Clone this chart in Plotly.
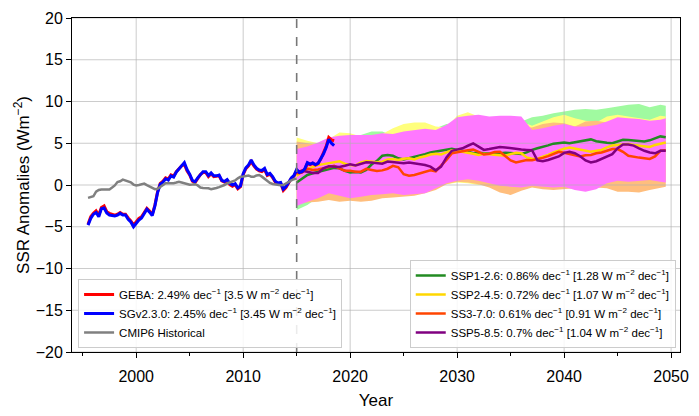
import numpy as np
import plotly.graph_objects as go

# ---------------- data ----------------
# Observations / historical run (quarterly steps)
OBS_START = 1995.5
OBS_STEP = 0.25

sg_v230 = [
    -4.8, -4.0,
    -3.5, -3.3, -3.8, -2.85,
    -2.75, -3.35, -3.6, -3.65,
    -3.7, -3.6, -3.4, -3.6,
    -3.6, -4.1, -4.43, -5.0,
    -4.6, -4.2, -3.95, -3.45,
    -2.9, -3.25, -3.65, -2.5,
    -0.9, 0.1, 0.35, 0.75,
    0.6, 1.1, 0.95, 1.55,
    1.9, 2.38, 2.68, 1.85,
    1.3, 0.55, 0.39, 0.85,
    1.3, 1.6, 1.6, 1.14,
    1.45, 1.1, 1.1, 1.2,
    0.55, 0.42, 0.65, 0.2,
    0.0, 0.15, -0.35, -0.1,
    1.35, 2.05, 2.4, 2.99,
    2.4, 2.0, 1.8, 1.75,
    2.0, 1.25, 1.4, 1.0,
    0.45, 0.25, 0.3, -0.5,
    -0.2, 0.4, 0.85, 1.14,
    1.85, 1.5, 1.6, 1.9,
    2.68, 2.5, 2.65, 2.45,
    2.6, 3.15, 3.7, 4.45,
    5.46, 5.0, 4.72,
]

geba = [
    -4.7, -3.8,
    -3.4, -3.1, -3.6, -2.7,
    -2.5, -3.2, -3.4, -3.5,
    -3.6, -3.5, -3.3, -3.5,
    -3.5, -3.95, -4.3, -4.8,
    -4.45, -4.0, -3.8, -3.3,
    -2.8, -3.1, -3.55, -2.4,
    -0.8, 0.2, 0.45, 0.85,
    0.7, 1.2, 1.05, 1.6,
    1.95, 2.3, 2.5, 1.7,
    1.2, 0.45, 0.3, 0.8,
    1.25, 1.5, 1.5, 1.0,
    1.35, 1.0, 1.05, 1.1,
    0.5, 0.35, 0.55, 0.05,
    -0.15, 0.05, -0.45, -0.2,
    1.25, 1.95, 2.3, 2.8,
    2.3, 1.9, 1.7, 1.6,
    1.85, 1.15, 1.3, 0.9,
    0.35, 0.15, 0.2, -0.65,
    -0.3, 0.3, 0.8, 1.05,
    1.75, 1.45, 1.55, 1.85,
    2.6, 2.45, 2.6, 2.4,
    2.55, 3.1, 3.75, 4.6,
    5.7, 5.4, 5.3,
]

cmip6_hist = [
    -1.54, -1.45,
    -1.35, -0.8, -0.6, -0.53,
    -0.53, -0.5, -0.53, -0.3,
    -0.05, 0.35, 0.45, 0.65,
    0.55, 0.38, 0.32, 0.05,
    -0.05, 0.0, 0.05, 0.17,
    -0.02, -0.2, -0.3, -0.5,
    -0.45, -0.2, 0.05, 0.2,
    0.22, 0.2, 0.22, 0.3,
    0.39, 0.3, 0.22, 0.15,
    0.03, 0.05, 0.1, -0.05,
    -0.3, -0.35, -0.35, -0.4,
    -0.5, -0.45, -0.35, -0.25,
    -0.16, 0.0, 0.18, 0.3,
    0.45, 0.55, 0.8, 1.0,
    1.02, 1.1, 1.14, 1.0,
    0.98, 1.15, 1.2, 1.0,
    0.75, 0.55, 0.25, 0.12,
    0.05, 0.02, -0.03, 0.0,
    0.21, 0.35, 0.55, 0.7,
    0.77,
]

# Scenario ensemble means (half-year steps, 2015.0 - 2049.5)
SCEN_START = 2015.0
SCEN_STEP = 0.5

ssp126 = [
    0.3, 0.7, 1.2, 1.4, 1.55, 1.7, 1.9, 2.05, 2.0, 1.7,
    1.5, 1.55, 1.5, 1.8, 2.45, 2.9, 3.5, 3.6, 3.5, 3.2,
    3.05, 3.2, 3.35, 3.5, 3.7, 3.9, 4.0, 4.15, 4.25, 4.35,
    4.2, 4.1, 4.0, 3.8, 3.85, 3.8, 3.75, 3.7, 3.8, 3.87,
    3.82, 3.78, 3.72, 3.9, 4.2, 4.4, 4.55, 4.75, 4.95, 5.05,
    5.1, 5.0, 5.1, 5.28, 5.38, 5.46, 5.25, 5.12, 5.05, 5.0,
    5.2, 5.42, 5.4, 5.32, 5.28, 5.22, 5.35, 5.55, 5.82, 5.72,
]
ssp245 = [
    1.1, 1.6, 1.9, 2.15, 2.4, 2.5, 2.6, 2.7, 2.85, 2.55,
    2.4, 2.35, 2.7, 2.86, 2.8, 2.72, 2.8, 3.05, 3.12, 3.0,
    3.15, 3.2, 3.05, 3.3, 3.45, 3.65, 3.75, 3.65, 3.9, 4.15,
    4.1, 3.95, 3.85, 3.75, 3.6, 3.75, 3.7, 3.6, 3.55, 3.5,
    3.7, 3.85, 3.8, 3.3, 3.15, 3.12, 3.4, 3.6, 3.9, 4.15,
    4.35, 4.5, 4.35, 4.2, 4.05, 3.98, 4.1, 4.2, 4.5, 4.72,
    4.8, 4.85, 4.9, 4.8, 4.7, 4.6, 4.55, 4.8, 4.98, 5.1,
]
ssp370 = [
    1.35, 1.75, 1.93, 1.8, 1.85, 2.0, 2.15, 2.3, 2.0, 1.7,
    1.7, 1.6, 1.6, 1.93, 1.8, 1.68, 1.75, 1.95, 2.3, 2.12,
    1.3, 1.12, 1.2, 1.4, 1.6, 1.75, 1.64, 2.3, 3.0, 3.79,
    3.95, 4.05, 4.15, 4.24, 3.98, 3.65, 3.75, 3.95, 3.98, 3.5,
    2.95, 2.7, 2.86, 3.0, 2.97, 3.1, 3.25, 3.45, 3.7, 3.98,
    3.85, 3.7, 3.5, 3.42, 3.55, 3.6, 3.8, 3.9, 4.1, 4.3,
    4.3, 3.98, 3.5, 3.35, 3.28, 3.2, 3.12, 3.42, 4.1, 4.16,
]
ssp585 = [
    1.55, 1.7, 1.6, 1.45, 1.45, 2.0, 2.25, 2.2, 2.15, 2.3,
    2.49, 2.35, 2.5, 2.72, 2.7, 2.6, 2.55, 2.8, 2.75, 2.65,
    2.6, 2.68, 2.6, 2.5, 2.4, 2.2, 1.75, 2.2, 3.3, 4.1,
    4.25, 4.4, 4.7, 4.98, 4.6, 4.2, 4.3, 4.45, 4.55, 4.5,
    4.4, 4.35, 4.24, 4.2, 4.16, 2.95, 2.86, 3.0, 3.2, 3.42,
    3.85, 3.98, 3.8, 3.45, 2.95, 2.7, 2.85, 3.12, 3.42, 3.7,
    4.4, 4.85, 4.85, 4.72, 4.4, 4.1, 3.9, 3.8, 4.1, 4.09,
]

# Ensemble spread envelopes (yearly, 2015-2049 plus 2049.5)
band_years = [2015, 2016, 2017, 2018, 2019, 2020, 2021, 2022, 2023, 2024,
              2025, 2026, 2027, 2028, 2029, 2030, 2031, 2032, 2033, 2034,
              2035, 2036, 2037, 2038, 2039, 2040, 2041, 2042, 2043, 2044,
              2045, 2046, 2047, 2048, 2049, 2049.5]

ssp126_hi = [3.5, 4.0, 4.5, 5.0, 5.5, 5.8, 6.0, 6.4, 6.4, 5.9,
             6.0, 6.2, 6.5, 6.8, 7.3, 7.4, 7.6, 7.8, 7.9, 7.8,
             7.6, 7.6, 8.1, 8.3, 8.6, 8.8, 9.0, 9.1, 9.0, 9.2,
             9.4, 9.6, 9.7, 9.3, 9.6, 9.5]
ssp126_lo = [-3.0, -2.4, -1.5, -0.8, -1.5, -1.3, -1.0, -0.8, -0.6, -0.6,
             -0.7, -0.6, -0.5, -0.2, 0.3, 0.6, 0.4, 0.1, 0.3, 0.4,
             0.3, 0.2, 0.4, 0.3, 0.2, 0.3, 0.1, 0.0, 0.2, 0.5,
             0.8, 0.7, 0.8, 0.9, 0.8, 0.7]
ssp245_hi = [5.7, 5.3, 5.0, 5.5, 6.3, 6.2, 5.8, 5.9, 6.1, 6.8,
             7.3, 7.5, 7.5, 7.0, 6.9, 8.3, 8.7, 8.2, 8.0, 7.9,
             7.8, 7.6, 7.1, 7.6, 8.1, 8.4, 8.0, 7.7, 7.5, 8.2,
             8.4, 8.2, 8.0, 7.8, 8.3, 8.2]
ssp245_lo = [-2.2, -1.9, -1.3, -0.9, -0.9, -1.0, -0.9, -0.8, -0.7, -0.6,
             -0.8, -0.7, -0.6, -0.3, 0.1, 0.3, 0.2, 0.0, 0.3, 0.3,
             0.2, 0.1, 0.3, 0.2, 0.1, 0.2, 0.0, -0.2, -0.1, 0.4,
             0.6, 0.5, 0.6, 0.7, 0.6, 0.5]
ssp370_hi = [5.2, 5.0, 4.8, 5.0, 5.3, 5.5, 5.3, 5.5, 5.6, 5.7,
             5.8, 6.0, 6.0, 6.2, 6.5, 7.0, 7.4, 7.6, 7.5, 7.4,
             7.3, 7.0, 6.9, 7.3, 7.5, 7.4, 7.0, 7.6, 7.7, 7.5,
             7.6, 7.5, 7.4, 7.5, 7.6, 7.5]
ssp370_lo = [-2.2, -2.1, -2.0, -1.8, -2.0, -1.9, -2.0, -1.9, -1.6, -1.5,
             -1.4, -1.3, -1.0, -0.6, 0.1, 0.4, 0.3, 0.1, -0.3, -0.9,
             -1.2, -0.7, -0.3, -0.5, -0.6, -0.5, -0.4, -0.6, -0.3, -0.4,
             -0.8, -0.8, -0.9, -0.6, -0.3, -0.2]
ssp585_hi = [4.3, 4.6, 5.1, 5.7, 5.9, 6.0, 6.0, 6.0, 6.2, 6.1,
             6.4, 6.6, 6.75, 6.6, 7.2, 8.1, 8.3, 8.4, 8.2, 8.3,
             8.3, 8.2, 6.6, 6.8, 7.1, 7.3, 7.0, 7.0, 7.2, 7.6,
             8.1, 8.0, 7.9, 7.7, 7.8, 8.0]
ssp585_lo = [-2.5, -2.0, -1.6, -1.0, -1.3, -1.6, -1.4, -1.2, -1.1, -1.0,
             -1.2, -1.1, -1.0, -0.4, 0.2, 0.5, 0.7, 0.5, 0.2, -0.1,
             -0.2, -0.3, -0.1, -0.2, -0.3, -0.2, -0.6, -0.8, -0.5, 0.2,
             0.5, 0.4, 0.5, 0.6, 0.4, 0.3]

SCENARIO_BREAK = 2015

x_ticks = [2000, 2010, 2020, 2030, 2040, 2050]
y_ticks = [-20, -15, -10, -5, 0, 5, 10, 15, 20]
X_RANGE = [1994.0, 2050.83]
Y_RANGE = [-20, 20]

obs_labels = [
    "GEBA: 2.49% dec<sup>−1</sup> [3.5 W m<sup>−2</sup> dec<sup>−1</sup>]",
    "SGv2.3.0: 2.45% dec<sup>−1</sup> [3.45 W m<sup>−2</sup> dec<sup>−1</sup>]",
    "CMIP6 Historical",
]
ssp_labels = [
    "SSP1-2.6: 0.86% dec<sup>−1</sup> [1.28 W m<sup>−2</sup> dec<sup>−1</sup>]",
    "SSP2-4.5: 0.72% dec<sup>−1</sup> [1.07 W m<sup>−2</sup> dec<sup>−1</sup>]",
    "SS3-7.0: 0.61% dec<sup>−1</sup> [0.91 W m<sup>−2</sup> dec<sup>−1</sup>]",
    "SSP5-8.5: 0.7% dec<sup>−1</sup> [1.04 W m<sup>−2</sup> dec<sup>−1</sup>]",
]

# ---------------- styling ----------------
FONT = "Liberation Sans, Arial, sans-serif"
line_colors = ["#228B22", "#FFD700", "#FF4500", "#800080"]
band_colors = ["rgb(160,250,160)", "rgb(255,255,125)",
               "rgb(255,190,125)", "rgb(255,120,255)"]
GRID_COLOR = "rgba(176,176,176,0.65)"


def years_for(values, start, step):
    return start + step * np.arange(len(values))


fig = go.Figure()

# spread envelopes
bands = [(ssp126_hi, ssp126_lo), (ssp245_hi, ssp245_lo),
         (ssp370_hi, ssp370_lo), (ssp585_hi, ssp585_lo)]
for (hi, lo), col in zip(bands, band_colors):
    fig.add_trace(go.Scatter(x=band_years, y=hi, mode="lines",
                             line=dict(width=0, color=col),
                             showlegend=False, hoverinfo="skip"))
    fig.add_trace(go.Scatter(x=band_years, y=lo, mode="lines",
                             line=dict(width=0, color=col),
                             fill="tonexty", fillcolor=col,
                             showlegend=False, hoverinfo="skip"))

# grid drawn above the envelopes but below the lines
gx, gy = [], []
for t in x_ticks:
    gx += [t, t, None]
    gy += [Y_RANGE[0], Y_RANGE[1], None]
for t in y_ticks:
    gx += [X_RANGE[0], X_RANGE[1], None]
    gy += [t, t, None]
fig.add_trace(go.Scatter(x=gx, y=gy, mode="lines",
                         line=dict(color=GRID_COLOR, width=1),
                         showlegend=False, hoverinfo="skip"))

# scenario means
for vals, col, name in zip([ssp126, ssp245, ssp370, ssp585], line_colors, ssp_labels):
    fig.add_trace(go.Scatter(x=years_for(vals, SCEN_START, SCEN_STEP), y=vals,
                             mode="lines", line=dict(color=col, width=2.5),
                             name=name, legend="legend2"))

# historical and observations
fig.add_trace(go.Scatter(x=years_for(geba, OBS_START, OBS_STEP), y=geba, mode="lines",
                         line=dict(color="#FF0000", width=3), name=obs_labels[0],
                         legend="legend"))
fig.add_trace(go.Scatter(x=years_for(sg_v230, OBS_START, OBS_STEP), y=sg_v230, mode="lines",
                         line=dict(color="#0000FF", width=3), name=obs_labels[1],
                         legend="legend"))
fig.add_trace(go.Scatter(x=years_for(cmip6_hist, OBS_START, OBS_STEP), y=cmip6_hist,
                         mode="lines", line=dict(color="#808080", width=2.5),
                         name=obs_labels[2], legend="legend"))

# start of the scenario period
fig.add_shape(type="line", xref="x", yref="paper",
              x0=SCENARIO_BREAK, x1=SCENARIO_BREAK, y0=0, y1=1,
              line=dict(color="#777777", width=1.6, dash="dash"), layer="above")

legend_common = dict(bgcolor="rgba(255,255,255,0.85)", bordercolor="#cccccc",
                     borderwidth=1, font=dict(family=FONT, size=11.5, color="black"),
                     itemwidth=30, tracegroupgap=0, traceorder="normal")

fig.update_layout(
    width=699, height=416,
    margin=dict(l=72, r=10, t=14, b=43),
    paper_bgcolor="white", plot_bgcolor="white",
    font=dict(family=FONT, color="black"),
    showlegend=True,
    legend=dict(x=0.01, y=0.012, xanchor="left", yanchor="bottom", **legend_common),
    legend2=dict(x=0.993, y=0.012, xanchor="right", yanchor="bottom", **legend_common),
    xaxis=dict(range=X_RANGE, tickvals=x_ticks, showgrid=False, zeroline=False,
               showline=True, linecolor="black", linewidth=1, mirror=True,
               ticks="outside", ticklen=5, tickcolor="black",
               tickfont=dict(size=16), ticklabelstandoff=5,
               minor=dict(dtick=5, ticks="outside", ticklen=3, tickcolor="black", showgrid=False),
               title=dict(text="Year", font=dict(size=17), standoff=9)),
    yaxis=dict(range=Y_RANGE, tickvals=y_ticks, showgrid=False, zeroline=False,
               showline=True, linecolor="black", linewidth=1, mirror=True,
               ticks="outside", ticklen=5, tickcolor="black",
               tickfont=dict(size=16),
               title=dict(text="SSR Anomalies (Wm<sup>−2</sup>)", font=dict(size=17), standoff=1)),
)

fig.write_html("out.html")
